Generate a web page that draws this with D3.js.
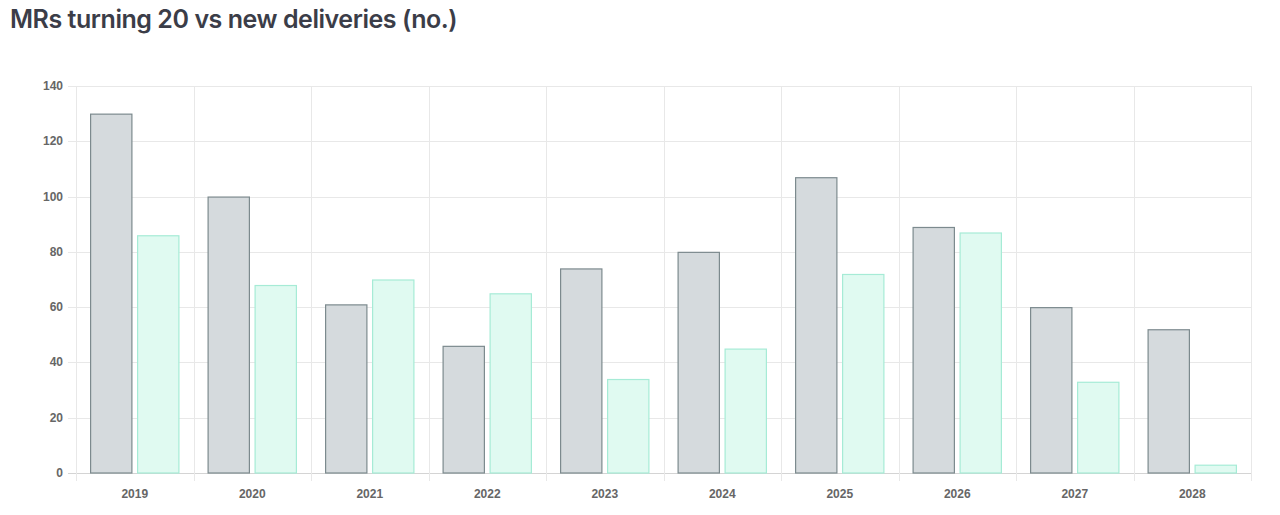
<!DOCTYPE html>
<html>
<head>
<meta charset="utf-8">
<script src="https://cdn.jsdelivr.net/npm/d3@7"></script>
<style>
  html, body { margin: 0; padding: 0; background: #fff; }
  svg { display: block; }
</style>
</head>
<body>
<svg id="chart" width="1280" height="515"></svg>
<script>
const categories = ["2019","2020","2021","2022","2023","2024","2025","2026","2027","2028"];
const mrsTurning20 = [130, 100, 61, 46, 74, 80, 107, 89, 60, 52];
const newDeliveries = [86, 68, 70, 65, 34, 45, 72, 87, 33, 3];
const yTicks = [0, 20, 40, 60, 80, 100, 120, 140];
const titleText = "MRs turning 20 vs new deliveries (no.)";

(function () {
const svg = d3.select("#chart");
const pLeft = 76, pRight = 1251, pTop = 86, pBottom = 473;

svg.append("text")
  .attr("x", 10).attr("y", 28)
  .attr("font-family", "Inter, 'Open Sans', sans-serif")
  .attr("font-size", 25).attr("font-weight", 600)
  .attr("letter-spacing", "-0.45")
  .attr("fill", "#3b3d48")
  .text(titleText);

const x = d3.scaleBand().domain(categories).range([pLeft, pRight]).paddingInner(0).paddingOuter(0);
const y = d3.scaleLinear().domain([0, 140]).range([pBottom, pTop]);

const g = svg.append("g");

// horizontal gridlines
g.selectAll(".hgrid").data(yTicks).enter().append("line")
  .attr("x1", pLeft - 8).attr("x2", pRight)
  .attr("y1", d => Math.round(y(d)) + 0.5).attr("y2", d => Math.round(y(d)) + 0.5)
  .attr("stroke", d => d === 0 ? "#d4d4d4" : "#e8e8e8").attr("stroke-width", 1);

// vertical gridlines
const vlines = categories.map(c => x(c)).concat([pRight]);
g.selectAll(".vgrid").data(vlines).enter().append("line")
  .attr("x1", d => Math.round(d) + 0.5).attr("x2", d => Math.round(d) + 0.5)
  .attr("y1", pTop).attr("y2", pBottom + 8)
  .attr("stroke", "#e8e8e8").attr("stroke-width", 1);

// y labels
g.selectAll(".ylab").data(yTicks).enter().append("text")
  .attr("x", 63).attr("y", d => y(d) + 4)
  .attr("text-anchor", "end")
  .attr("font-family", "'Liberation Sans', Arial, sans-serif")
  .attr("font-size", 12).attr("font-weight", 700)
  .attr("fill", "#666")
  .text(d => d);

// x labels
g.selectAll(".xlab").data(categories).enter().append("text")
  .attr("x", d => x(d) + x.bandwidth() / 2).attr("y", 498)
  .attr("text-anchor", "middle")
  .attr("font-family", "'Liberation Sans', Arial, sans-serif")
  .attr("font-size", 12).attr("font-weight", 700)
  .attr("fill", "#666")
  .text(d => d);

// Chart.js style: categoryPercentage 0.8, barPercentage 0.9
const bw = x.bandwidth();
const slot = bw * 0.8 / 2;
const barW = slot * 0.9;
function barX(i, s) { return x(categories[i]) + bw * 0.1 + s * slot + (slot - barW) / 2; }

const series = [
  { values: mrsTurning20, fill: "#d5dadd", stroke: "#7c8a8e" },
  { values: newDeliveries, fill: "#e0faf1", stroke: "#a6ebd6" }
];
series.forEach((s, si) => {
  g.selectAll(".bar" + si).data(s.values).enter().append("rect")
    .attr("x", (d, i) => barX(i, si) + 0.5)
    .attr("y", d => y(d) + 0.5)
    .attr("width", barW - 1)
    .attr("height", d => Math.max(0, pBottom - y(d) - 0.5))
    .attr("fill", s.fill)
    .attr("stroke", s.stroke)
    .attr("stroke-width", 1.2);
});
})();
</script>
</body>
</html>
